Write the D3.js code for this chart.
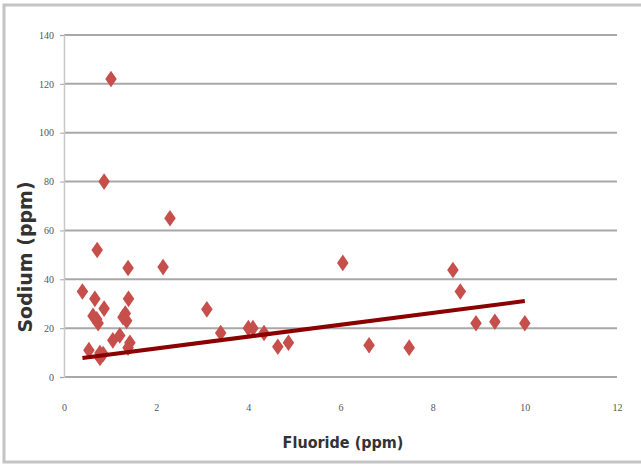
<!DOCTYPE html>
<html>
<head>
<meta charset="utf-8">
<script src="https://cdn.jsdelivr.net/npm/d3@7"></script>
<style>
    body { margin: 0; background: #fff; }
    .tick text { font-family: "Liberation Serif", serif; font-size: 10px; fill: #555; }
    .axisTitle { font-family: "DejaVu Sans", sans-serif; font-weight: bold; fill: #333; }
</style>
</head>
<body>
<div id="canvas"></div>
<script>
"use strict"

let svgWidth = 641
let svgHeight = 466

let margin = { top: 35, right: 24, bottom: 89, left: 64 }
let width = svgWidth - margin.left - margin.right
let height = svgHeight - margin.top - margin.bottom

// ---------------- DATA ----------------
let fluoride = [1.02, 0.87, 2.3, 0.72, 1.39, 2.15, 6.05, 8.44, 8.6, 0.4,
    0.67, 1.4, 0.87, 3.1, 0.63, 0.71, 0.74, 1.33, 1.28, 1.36,
    1.21, 1.06, 1.43, 1.39, 0.54, 0.78, 0.85, 0.78, 3.4, 4.0,
    4.1, 4.34, 4.64, 4.87, 6.62, 7.49, 8.94, 9.35, 10.0]
let sodium = [122, 80, 65, 52, 44.6, 45, 46.7, 43.8, 35, 35,
    32, 32, 28, 27.7, 25, 23.6, 22, 26, 24.5, 23,
    17, 15, 14, 12, 11, 9.8, 9.4, 7.8, 18, 20,
    20, 18, 12.4, 14, 13, 12, 22, 22.6, 22]
let trendX = [0.4, 10]
let trendY = [7.8, 31.1]
let xTicks = [0, 2, 4, 6, 8, 10, 12]
let yTicks = [0, 20, 40, 60, 80, 100, 120, 140]

let svg = d3.select("#canvas")
    .append("svg")
    .attr("width", svgWidth)
    .attr("height", svgHeight)

let defs = svg.append("defs")
defs.append("filter")
    .attr("id", "soft")
    .append("feGaussianBlur")
    .attr("stdDeviation", 0.6)

// frame
svg.append("path")
    .attr("d", "M641,5 H4 V462 H641")
    .attr("fill", "none")
    .attr("stroke", "#c4c4c4")
    .attr("stroke-width", 3)

let viz = svg.append("g")
    .attr("transform", `translate(${margin.left},${margin.top})`)

let xScale = d3.scaleLinear().domain([0, 12]).range([0, width])
let yScale = d3.scaleLinear().domain([0, 140]).range([height, 0])

// gridlines
viz.selectAll("line.grid")
    .data(yTicks)
    .enter()
    .append("line")
    .attr("class", "grid")
    .attr("x1", 0)
    .attr("x2", width)
    .attr("y1", d => yScale(d))
    .attr("y2", d => yScale(d))
    .attr("stroke", "#a8a8a8")
    .attr("stroke-width", 2)

// y axis
let yAxis = viz.append("g")
    .call(d3.axisLeft(yScale).tickValues(yTicks).tickSize(4).tickPadding(6))
yAxis.select(".domain").attr("stroke", "#c8c8c8").attr("stroke-width", 1.5)
yAxis.selectAll(".tick line").attr("stroke", "#a8a8a8")

// x axis labels (no line)
let xAxis = viz.append("g")
    .attr("transform", `translate(0,${height})`)
    .call(d3.axisBottom(xScale).tickValues(xTicks).tickSize(0).tickPadding(27))
xAxis.select(".domain").remove()

// titles
viz.append("text")
    .attr("class", "axisTitle")
    .attr("x", 279)
    .attr("y", height + 71)
    .attr("text-anchor", "middle")
    .style("font-family", "'DejaVu Sans Condensed', 'DejaVu Sans', sans-serif")
    .style("font-size", "16px")
    .text("Fluoride (ppm)")

viz.append("text")
    .attr("class", "axisTitle")
    .attr("transform", "rotate(-90)")
    .attr("x", -222)
    .attr("y", -32)
    .attr("text-anchor", "middle")
    .style("font-size", "19px")
    .text("Sodium (ppm)")

// points
let points = fluoride.map((f, i) => ({ x: f, y: sodium[i] }))

viz.selectAll("path.pt")
    .data(points)
    .enter()
    .append("path")
    .attr("class", "pt")
    .attr("d", d3.symbol().type(d3.symbolDiamond).size(80))
    .attr("transform", d => `translate(${xScale(d.x)},${yScale(d.y)}) scale(1.2,1)`)
    .attr("fill", "#c6504c")
    .attr("filter", "url(#soft)")

// trendline
viz.append("line")
    .attr("x1", xScale(trendX[0]))
    .attr("y1", yScale(trendY[0]))
    .attr("x2", xScale(trendX[1]))
    .attr("y2", yScale(trendY[1]))
    .attr("stroke", "#8b0000")
    .attr("stroke-width", 4)
</script>
</body>
</html>
